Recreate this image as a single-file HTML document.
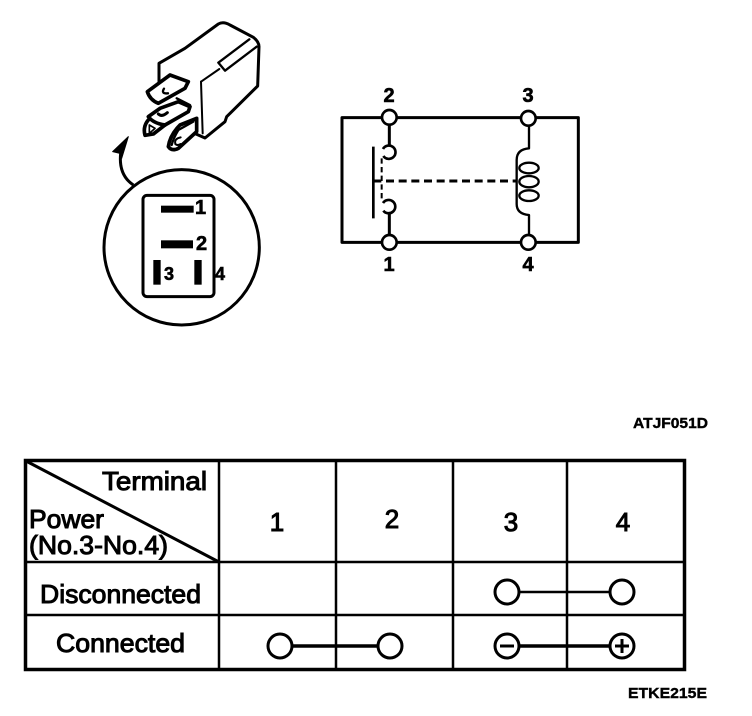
<!DOCTYPE html>
<html><head><meta charset="utf-8"><style>
html,body{margin:0;padding:0;background:#fff}
svg{display:block}
text{font-family:"Liberation Sans",sans-serif;fill:#000}
.t{font-size:26px;stroke:#000;stroke-width:1}
</style></head><body>
<svg width="752" height="716" viewBox="0 0 752 716" xmlns="http://www.w3.org/2000/svg">
<rect width="752" height="716" fill="#fff"/>

<!-- relay -->
<g transform="translate(90,10) scale(.33333)" fill="none" stroke="#000" stroke-width="9" stroke-linejoin="round" stroke-linecap="round">
<path d="M207,215 L207,160 L285,115 L385,42 Q400,33 420,45 L490,82 Q507,95 507,110 L503,228 L410,320 L405,335 L345,384 L318,372"/>
<path d="M333,215 L338,370" stroke-width="6"/>
<path d="M333,215 L388,177" stroke-width="6"/>
<path d="M385,158 L405,182 L500,110 M385,158 L478,88" stroke-width="7"/>
<path d="M175,330 Q158,350 165,376 L190,372 L225,345" stroke-width="11"/>
<path d="M178,345 L195,355 L178,370Z" stroke-width="5"/>
<path d="M260,265 L300,285" stroke-width="7"/>
<path d="M175,320 L210,295 L265,275 L300,290 L295,305 L225,345 Q190,340 175,320Z" fill="#fff" stroke-width="11"/>
<path d="M205,312 Q216,322 232,308" stroke-width="9"/>
<path d="M172,245 L240,195 L295,215 L285,235 L205,280 Q180,270 172,245Z" fill="#fff" stroke-width="11"/>
<path d="M222,236 Q212,252 234,250" stroke-width="7"/>
<path d="M320,325 L270,345 Q240,375 235,410 Q245,425 265,415 L320,365Z" fill="#fff" stroke-width="11"/>
<path d="M310,335 L265,360 Q250,385 245,405" stroke-width="7"/>
<path d="M272,382 Q252,386 256,402 Q262,408 272,402" stroke-width="6"/>
<path d="M115,380 L68,425 L90,430 L95,445Z" fill="#000" stroke-width="3"/>
</g>

<!-- connector view -->
<g transform="translate(90,150) scale(.33333)" fill="none" stroke="#000" stroke-linejoin="round">
<path d="M92,10 Q85,75 130,105" stroke-width="9"/>
<circle cx="275" cy="292" r="233" stroke-width="9"/>
<rect x="159" y="136" width="213" height="304" rx="12" stroke-width="9"/>
<g fill="#000" stroke="none">
<rect x="213" y="167" width="98" height="21"/>
<rect x="213" y="271" width="96" height="24"/>
<rect x="190" y="330" width="22" height="74"/>
<rect x="313" y="330" width="22" height="74"/>
</g>
</g>
<g font-size="20" stroke="#000" stroke-width=".6">
<text x="195" y="214" style="font-weight:bold">1</text>
<text x="196" y="250" style="font-weight:bold">2</text>
<text x="164" y="280" font-size="18" style="font-weight:bold">3</text>
<text x="215" y="280" font-size="18" style="font-weight:bold">4</text>
</g>

<!-- schematic -->
<g transform="translate(330,80) scale(.33333)" fill="none" stroke="#000" stroke-linejoin="round">
<rect x="36" y="113" width="709" height="374" stroke-width="9"/>
<path d="M178,135V197M178,400V465" stroke-width="9"/>
<path d="M597,137V205Q560,208 560,240V372Q560,402 597,405V465" stroke-width="7"/>
<path d="M130,200V415" stroke-width="8"/>
<path d="M155,235V360" stroke-width="6" stroke-dasharray="16,10"/>
<path d="M130,303H560" stroke-width="9" stroke-dasharray="24,14"/>
<path d="M160,228A20,20 0 1 0 159,207M159,369A20,20 0 1 1 160,392" stroke-width="8"/>
<g stroke-width="7">
<ellipse cx="597" cy="264" rx="29" ry="16"/>
<ellipse cx="597" cy="305" rx="29" ry="17"/>
<ellipse cx="597" cy="347" rx="29" ry="16"/>
</g>
<g fill="#fff" stroke-width="8">
<circle cx="178" cy="112" r="22"/>
<circle cx="595" cy="115" r="22"/>
<circle cx="178" cy="487" r="22"/>
<circle cx="595" cy="487" r="22"/>
</g>
</g>
<g font-size="20" text-anchor="middle" stroke="#000" stroke-width=".6">
<text x="389" y="102" style="font-weight:bold">2</text>
<text x="528" y="102" style="font-weight:bold">3</text>
<text x="389" y="271" style="font-weight:bold">1</text>
<text x="528" y="271" style="font-weight:bold">4</text>
</g>

<text x="633" y="428" font-size="15" stroke="#000" stroke-width=".4" textLength="75" lengthAdjust="spacingAndGlyphs" style="font-weight:bold">ATJF051D</text>

<!-- table -->
<g fill="none" stroke="#000">
<rect x="25.5" y="460.5" width="659" height="209" stroke-width="3.5"/>
<path d="M219,460V669M336,460V669M453,460V669M567,460V669M25,562H685M25,615H685" stroke-width="2.5"/>
<path d="M26,461L219,562" stroke-width="3"/>
</g>
<text class="t" x="102" y="490" textLength="105" lengthAdjust="spacingAndGlyphs">Terminal</text>
<text class="t" x="29" y="528" textLength="75" lengthAdjust="spacingAndGlyphs">Power</text>
<text class="t" x="29" y="554" textLength="139" lengthAdjust="spacingAndGlyphs">(No.3-No.4)</text>
<text class="t" x="40" y="603" textLength="161" lengthAdjust="spacingAndGlyphs">Disconnected</text>
<text class="t" x="56" y="652" textLength="129" lengthAdjust="spacingAndGlyphs">Connected</text>
<g class="t" text-anchor="middle">
<text x="277" y="531">1</text>
<text x="392" y="528">2</text>
<text x="511" y="531">3</text>
<text x="623" y="531">4</text>
</g>

<g fill="#fff" stroke="#000">
<path d="M507,592H622" stroke-width="2.5"/>
<path d="M280,646H390M507,646H622" stroke-width="3.5"/>
<g stroke-width="3">
<circle cx="507" cy="592" r="12"/>
<circle cx="622" cy="592" r="12"/>
<circle cx="280" cy="646" r="12"/>
<circle cx="390" cy="646" r="12"/>
<circle cx="507" cy="646" r="12"/>
<circle cx="622" cy="646" r="12"/>
</g>
<path d="M500,646H514M615,646H629M622,639V653" stroke-width="3" fill="none"/>
</g>

<text x="628" y="698" font-size="15" stroke="#000" stroke-width=".4" textLength="79" lengthAdjust="spacingAndGlyphs" style="font-weight:bold">ETKE215E</text>
</svg>
</body></html>
